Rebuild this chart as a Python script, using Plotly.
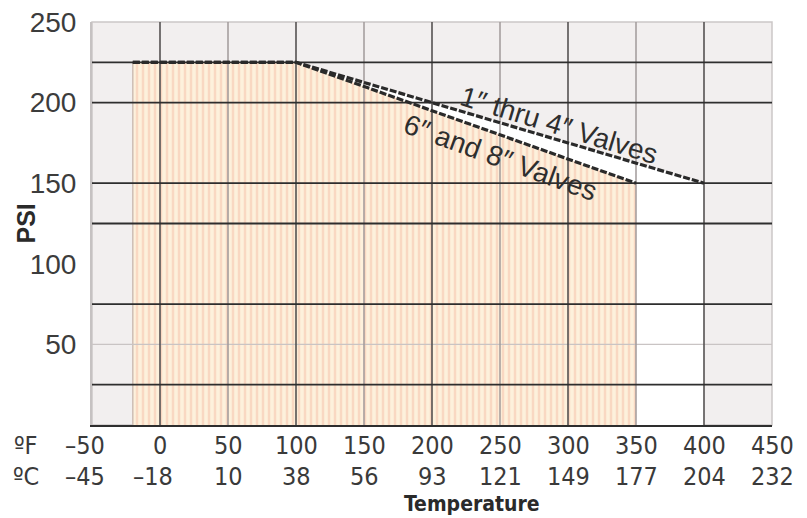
import plotly.graph_objects as go

# ---- data ----
temp_f_ticks = [-50, 0, 50, 100, 150, 200, 250, 300, 350, 400, 450]
temp_c_ticks = [-45, -18, 10, 38, 56, 93, 121, 149, 177, 204, 232]
psi_ticks = [50, 100, 150, 200, 250]

valves_1_4_temp = [-20, 100, 400]
valves_1_4_psi = [225, 225, 150]
valves_6_8_temp = [-20, 100, 350]
valves_6_8_psi = [225, 225, 150]

grid_h_dark = [25, 75, 125, 150, 200, 225]
grid_h_light = [50]
grid_v_dark = [0, 100, 200, 300, 400]
grid_v_mid = [50, 150, 250, 350]

X_RANGE = [-50, 450]
Y_RANGE = [0, 250]

NARROW = "DejaVu Sans Condensed, Liberation Sans Narrow, sans-serif"
REG = "Liberation Sans, Arial, Helvetica, sans-serif"

fig = go.Figure()

# white region under the 1"-4" rating
fig.add_trace(go.Scatter(x=valves_1_4_temp, y=valves_1_4_psi, fill="tozeroy",
                         fillcolor="#ffffff", line=dict(width=0), mode="lines",
                         hoverinfo="skip", showlegend=False))
# striped peach region under the 6"-8" rating
fig.add_trace(go.Scatter(x=valves_6_8_temp, y=valves_6_8_psi, fill="tozeroy",
                         fillcolor="#fdf0dc",
                         fillpattern=dict(shape="|", fgcolor="#f6c0a8", bgcolor="#fdf1dc",
                                          size=6, solidity=0.42),
                         line=dict(width=0), mode="lines",
                         hoverinfo="skip", showlegend=False))
# left edge of fill
fig.add_trace(go.Scatter(x=[valves_6_8_temp[0], valves_6_8_temp[0]],
                         y=[0, valves_6_8_psi[0]], mode="lines",
                         line=dict(color="#cdbdb5", width=1.5),
                         hoverinfo="skip", showlegend=False))


def hlines(vals):
    xs, ys = [], []
    for v in vals:
        xs += [X_RANGE[0], X_RANGE[1], None]
        ys += [v, v, None]
    return xs, ys


def vlines(vals):
    xs, ys = [], []
    for v in vals:
        xs += [v, v, None]
        ys += [Y_RANGE[0], Y_RANGE[1], None]
    return xs, ys


for vals, fn, col, w in [
    (grid_h_light, hlines, "#c9c4c4", 1.2),
    (grid_v_mid, vlines, "#a09a9a", 1.5),
    (grid_v_dark, vlines, "#555252", 1.6),
    (grid_h_dark, hlines, "#2e2e2e", 1.8),
]:
    xs, ys = fn(vals)
    fig.add_trace(go.Scatter(x=xs, y=ys, mode="lines", line=dict(color=col, width=w),
                             hoverinfo="skip", showlegend=False))

# rating lines
for tx, py in [(valves_1_4_temp, valves_1_4_psi), (valves_6_8_temp, valves_6_8_psi)]:
    fig.add_trace(go.Scatter(x=tx, y=py, mode="lines",
                             line=dict(color="#2a2a2a", width=3.2, dash="7px,2px"),
                             hoverinfo="skip", showlegend=False))

annotations = []
TICKFONT = dict(family=NARROW, size=25, color="#3a3a3a")
# x tick labels (two rows)
for f, c in zip(temp_f_ticks, temp_c_ticks):
    for val, yy in [(f, -0.05), (c, -0.127)]:
        txt = ("–" + str(abs(val))) if val < 0 else str(val)
        annotations.append(dict(x=f, y=yy, xref="x", yref="paper", text=txt,
                                showarrow=False, xanchor="center", yanchor="middle",
                                xshift=-7 if val < 0 else 0, font=TICKFONT))
annotations.append(dict(x=-0.097, y=-0.05, xref="paper", yref="paper", text="ºF",
                        showarrow=False, xanchor="center", yanchor="middle", font=TICKFONT))
annotations.append(dict(x=-0.097, y=-0.127, xref="paper", yref="paper", text="ºC",
                        showarrow=False, xanchor="center", yanchor="middle", font=TICKFONT))
annotations.append(dict(x=0.559, y=-0.2308, xref="paper", yref="paper", text="<b>Temperature</b>",
                        showarrow=False, xanchor="center", yanchor="bottom",
                        font=dict(family=NARROW, size=21, color="#2a2a2a")))
annotations.append(dict(x=-0.0985, y=0.5, xref="paper", yref="paper", text="<b>PSI</b>",
                        showarrow=False, xanchor="center", yanchor="middle", textangle=-90,
                        font=dict(family=REG, size=25, color="#2a2a2a")))
# series labels
annotations.append(dict(x=294, y=186, xref="x", yref="y", text="1″ thru 4″ Valves",
                        showarrow=False, textangle=17,
                        font=dict(family=REG, size=28, color="#2e2e2e")))
annotations.append(dict(x=250, y=166, xref="x", yref="y", text="6″ and 8″ Valves",
                        showarrow=False, textangle=20,
                        font=dict(family=REG, size=28, color="#2e2e2e")))

# page body has an 8px margin, so the figure is sized / placed to compensate
fig.update_layout(
    width=799, height=510,
    margin=dict(l=84, r=35, t=14, b=93, autoexpand=False),
    paper_bgcolor="#ffffff",
    plot_bgcolor="#f2efef",
    annotations=annotations,
    showlegend=False,
)
fig.update_xaxes(range=X_RANGE, showgrid=False, zeroline=False, showticklabels=False,
                 showline=True, linecolor="#2e2e2e", linewidth=2, mirror=False,
                 automargin=False)
fig.update_yaxes(range=Y_RANGE, showgrid=False, zeroline=False, tickvals=psi_ticks,
                 ticks="", ticklabelstandoff=8, automargin=False,
                 ticklabeloverflow="allow",
                 tickfont=dict(family=REG, size=28, color="#3c3c3c"),
                 showline=True, linecolor="#c6c2c2", linewidth=2)
# light frame on top and right
fig.add_shape(type="rect", xref="paper", yref="paper", x0=0, y0=0, x1=1, y1=1,
              line=dict(color="#cbc7c7", width=1.5), layer="below")

fig.write_html("out.html")
